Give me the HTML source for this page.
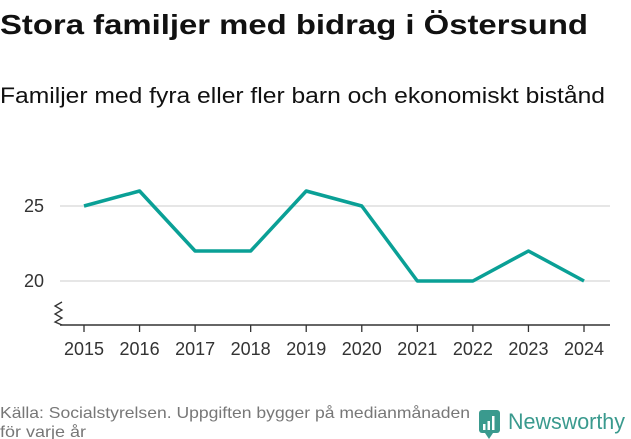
<!DOCTYPE html>
<html><head><meta charset="utf-8"><style>
body{margin:0;width:631px;height:439px;overflow:hidden;background:#fff;font-family:"Liberation Sans","DejaVu Sans",sans-serif;}
svg{position:absolute;left:0;top:0}
</style></head><body>
<svg width="631" height="439">
<text x="0" y="34" font-size="28" font-weight="bold" fill="#111" textLength="588" lengthAdjust="spacingAndGlyphs">Stora familjer med bidrag i Östersund</text>
<text x="0" y="103" font-size="22" fill="#111" textLength="605" lengthAdjust="spacingAndGlyphs">Familjer med fyra eller fler barn och ekonomiskt bistånd</text>
<g id="grid"></g>
<line x1="60" x2="610" y1="325" y2="325" stroke="#333" stroke-width="1.5"/>
<path d="M62 302 L55 306 L62 310 L55 314 L62 318 L55 322 L62 325" fill="none" stroke="#333" stroke-width="1.3"/>
<g id="xt"></g>
<path id="line" fill="none" stroke="#0aa096" stroke-width="3.5" stroke-linejoin="round"/>
<text x="0" y="418" font-size="16" fill="#777" textLength="470" lengthAdjust="spacingAndGlyphs">Källa: Socialstyrelsen. Uppgiften bygger på medianmånaden</text>
<text x="0" y="437" font-size="16" fill="#777" textLength="86" lengthAdjust="spacingAndGlyphs">för varje år</text>
<g>
<rect x="479" y="410" width="21" height="23" rx="3" fill="#3a9a8e"/>
<path d="M485 433 L489 439 L493 433 Z" fill="#3a9a8e"/>
<rect x="483" y="424" width="2.5" height="6" fill="#fff"/><rect x="487.5" y="421" width="2.5" height="9" fill="#fff"/><rect x="492" y="416" width="2.5" height="14" fill="#fff"/>
<text x="508" y="429" font-size="22" fill="#3a9a8e" textLength="117" lengthAdjust="spacingAndGlyphs">Newsworthy</text>
</g>
</svg>
<script>
const years=[2015,2016,2017,2018,2019,2020,2021,2022,2023,2024];
const values=[25,26,22,22,26,25,20,20,22,20];
const yTicks=[20,25];
const ns="http://www.w3.org/2000/svg";
const xS=i=>84+i*(500/9);
const yS=v=>281-(v-20)*15;
const g=document.getElementById('grid');
yTicks.forEach(t=>{
 const l=document.createElementNS(ns,'line');
 l.setAttribute('x1',60);l.setAttribute('x2',610);l.setAttribute('y1',yS(t));l.setAttribute('y2',yS(t));
 l.setAttribute('stroke','#ddd');l.setAttribute('stroke-width','1.5');
 
 
 g.appendChild(l);
 const tx=document.createElementNS(ns,'text');
 tx.setAttribute('x',44);tx.setAttribute('y',yS(t)+6);tx.setAttribute('text-anchor','end');
 tx.setAttribute('font-size','18');tx.setAttribute('fill','#333');tx.textContent=t;
 
 
 g.appendChild(tx);
});
const xt=document.getElementById('xt');
years.forEach((y,i)=>{
 const l=document.createElementNS(ns,'line');
 l.setAttribute('x1',xS(i));l.setAttribute('x2',xS(i));l.setAttribute('y1',325);l.setAttribute('y2',332);
 l.setAttribute('stroke','#333');l.setAttribute('stroke-width','1.3');
 
 
 xt.appendChild(l);
 const tx=document.createElementNS(ns,'text');
 tx.setAttribute('x',xS(i));tx.setAttribute('y',355);tx.setAttribute('text-anchor','middle');
 tx.setAttribute('font-size','18');tx.setAttribute('fill','#333');tx.textContent=y;
 
 
 xt.appendChild(tx);
});
document.getElementById('line').setAttribute('d',values.map((v,i)=>(i?'L':'M')+xS(i)+' '+yS(v)).join(' '));
</script>
</body></html>
